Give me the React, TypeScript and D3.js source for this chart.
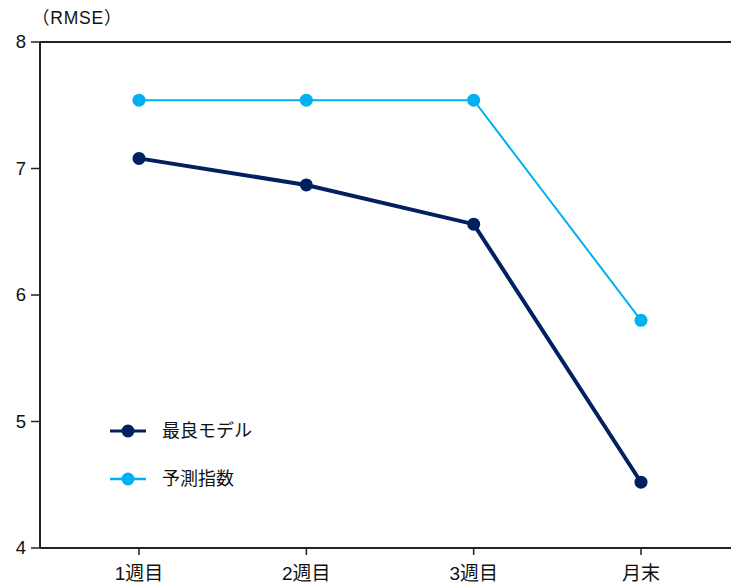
import React from "react";
import * as d3 from "d3";

const categories = ["1週目", "2週目", "3週目", "月末"];
const bestModel = [7.08, 6.87, 6.56, 4.52];
const forecastIndex = [7.54, 7.54, 7.54, 5.8];
const yTicks = [4, 5, 6, 7, 8];
const seriesNames = ["最良モデル", "予測指数"];
const seriesColors = ["#002060", "#00b0f0"];

const W = 731;
const H = 586;
const left = 40;
const top = 42;
const bottom = 548;
const font = "'Liberation Sans', Arial, 'Noto Sans CJK JP', sans-serif";

export default function App() {
  const x = d3.scalePoint<string>().domain(categories).range([139, 641]);
  const y = d3.scaleLinear().domain([4, 8]).range([bottom, top]);
  const line = d3
    .line<number>()
    .x((_, i) => x(categories[i]) as number)
    .y((d) => y(d));

  const series = [
    { name: seriesNames[0], values: bestModel, color: seriesColors[0], width: 4, r: 6.5 },
    { name: seriesNames[1], values: forecastIndex, color: seriesColors[1], width: 2, r: 6.5 },
  ];

  return (
    <svg
      width={W}
      height={H}
      style={{ position: "absolute", left: 0, top: 0, background: "#fff" }}
      fontFamily={font}
    >
      <text x={32} y={24} fontSize={17.5} letterSpacing={0.8} fill="#111">（RMSE）</text>

      {/* frame: top border, left axis, bottom axis */}
      <line x1={left} x2={W} y1={top} y2={top} stroke="#222" strokeWidth={2} />
      <line x1={left} x2={left} y1={top} y2={bottom} stroke="#222" strokeWidth={2} />
      <line x1={left} x2={W} y1={bottom} y2={bottom} stroke="#222" strokeWidth={2} />

      {yTicks.map((t) => (
        <g key={t}>
          <line x1={left - 9} x2={left} y1={y(t)} y2={y(t)} stroke="#222" strokeWidth={1.5} />
          <text x={26} y={y(t)} dy="0.35em" textAnchor="end" fontSize={18.5} fill="#111">
            {t}
          </text>
        </g>
      ))}

      {categories.map((c) => (
        <g key={c}>
          <line
            x1={x(c)}
            x2={x(c)}
            y1={bottom}
            y2={bottom + 7}
            stroke="#222"
            strokeWidth={1.5}
          />
          <text x={x(c)} y={580} textAnchor="middle" fontSize={19} fill="#111">
            {c}
          </text>
        </g>
      ))}

      {series.map((s) => (
        <g key={s.name}>
          <path d={line(s.values) ?? ""} fill="none" stroke={s.color} strokeWidth={s.width} />
          {s.values.map((v, i) => (
            <circle key={i} cx={x(categories[i])} cy={y(v)} r={s.r} fill={s.color} />
          ))}
        </g>
      ))}

      {series.map((s, i) => {
        const ly = 431 + i * 48;
        return (
          <g key={"lg" + s.name}>
            <line x1={110} x2={146} y1={ly} y2={ly} stroke={s.color} strokeWidth={s.width === 4 ? 3 : 2.5} />
            <circle cx={128} cy={ly} r={6.5} fill={s.color} />
            <text x={162} y={ly} dy="0.35em" fontSize={18} fill="#111">
              {s.name}
            </text>
          </g>
        );
      })}
    </svg>
  );
}
